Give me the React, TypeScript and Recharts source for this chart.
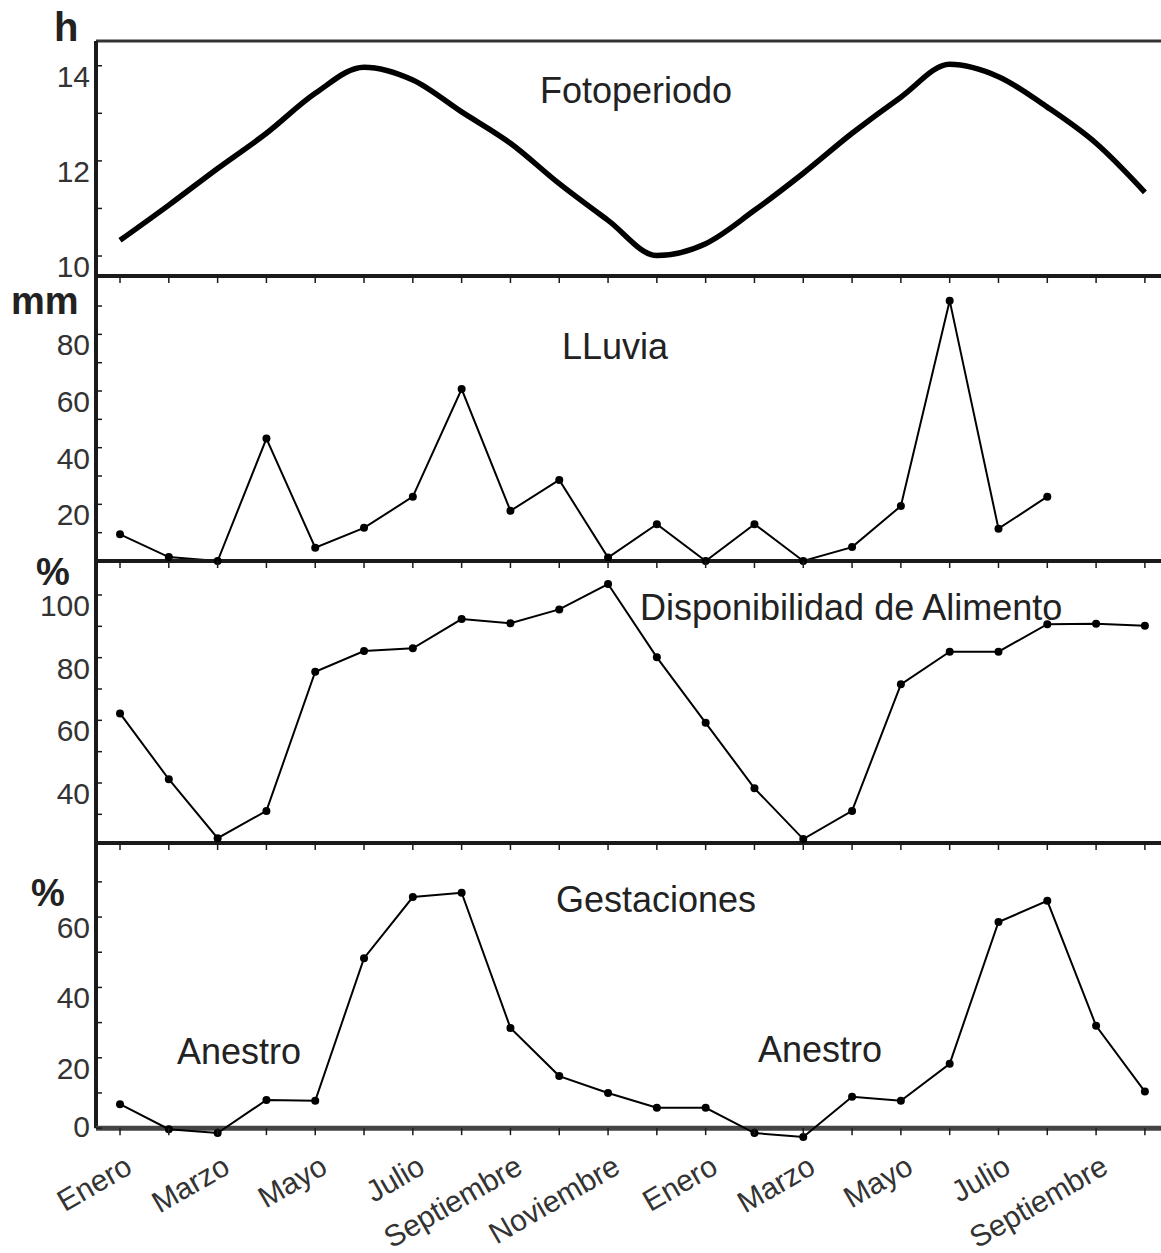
import React from 'react';
import { LineChart, Line, XAxis, YAxis, ReferenceLine } from 'recharts';

const months = [
  'Enero', 'Febrero', 'Marzo', 'Abril', 'Mayo', 'Junio', 'Julio', 'Agosto', 'Septiembre', 'Octubre', 'Noviembre', 'Diciembre',
  'Enero', 'Febrero', 'Marzo', 'Abril', 'Mayo', 'Junio', 'Julio', 'Agosto', 'Septiembre', 'Octubre',
];
// only every other month gets a label on the bottom axis
const tickLabels = months.map((m, i) => (i % 2 === 0 ? m : ''));

const fotoperiodo = [10.33, 11.07, 11.84, 12.58, 13.42, 13.97, 13.7, 13.03, 12.37, 11.52, 10.75, 10.01,
  10.26, 10.96, 11.74, 12.58, 13.34, 14.03, 13.77, 13.13, 12.37, 11.34];
const lluvia = [9.4, 1.4, 0, 43.2, 4.7, 11.7, 22.7, 60.7, 17.7, 28.6, 1.2, 13.0,
  0, 13.0, 0, 4.9, 19.4, 91.9, 11.4, 22.7, null, null];
const alimento = [62.2, 41.2, 22.4, 31.1, 75.5, 82.1, 83.0, 92.3, 91.0, 95.4, 103.5, 80.1,
  59.2, 38.3, 22.1, 31.1, 71.5, 81.9, 81.9, 90.7, 90.8, 90.2];
const gestaciones = [6.8, -0.3, -1.4, 8.0, 7.8, 48.3, 65.7, 66.9, 28.5, 14.8, 10.0, 5.8,
  5.8, -1.4, -2.5, 8.9, 7.8, 18.3, 58.6, 64.6, 29.1, 10.4];

const fotoTicks = [10, 11, 12, 13, 14];
const fotoLabels = [10, 12, 14];
const lluviaTicks = [10, 20, 30, 40, 50, 60, 70, 80, 90];
const lluviaLabels = [20, 40, 60, 80];
const alimTicks = [30, 40, 50, 60, 70, 80, 90, 100];
const alimLabels = [40, 60, 80, 100];
const gestTicks = [0, 10, 20, 30, 40, 50, 60, 70];
const gestLabels = [0, 20, 40, 60];

const data = months.map((mes, i) => ({
  i, mes,
  foto: fotoperiodo[i],
  lluvia: lluvia[i],
  alimento: alimento[i],
  gest: gestaciones[i],
}));
const monthIdx = months.map((_, i) => i);

const X_DOMAIN: [number, number] = [-0.492, 21.33];
const G_DOMAIN: [number, number] = [-2.8, 81.05];
const FONT = '"Liberation Sans", Arial, Helvetica, sans-serif';
const INK = '#1a1a1a';
const W = 1161;
const G_PLOT_H = 295;
const G_LIFT = (-G_DOMAIN[0] * G_PLOT_H) / (G_DOMAIN[1] - G_DOMAIN[0]);

const yTick = (labels: number[]) => (props: any) => {
  const { x, y, payload } = props;
  const v = payload.value;
  return (
    <g>
      <line x1={x} x2={x + 6} y1={y} y2={y} stroke={INK} strokeWidth={1.5} />
      {labels.includes(v) && (
        <text x={x - 6} y={v === 0 ? y + 9 : y + 21} textAnchor="end" fontSize={30} fill="#333" fontFamily={FONT}>
          {v}
        </text>
      )}
    </g>
  );
};

const xTick = (withLabels: boolean, lift = 0) => (props: any) => {
  const { x, y, payload } = props;
  const base = y - lift;
  const label = tickLabels[payload.value];
  const lx = x + 14;
  const ly = base + 44;
  return (
    <g>
      <line x1={x} x2={x} y1={base} y2={base + 7} stroke={INK} strokeWidth={1.5} />
      {withLabels && label && (
        <text x={lx} y={ly} transform={`rotate(-30 ${lx} ${ly})`} textAnchor="end" fontSize={30} fill="#333" fontFamily={FONT}>
          {label}
        </text>
      )}
    </g>
  );
};

const axisLine = { stroke: INK, strokeWidth: 4 };
const dot = { r: 4, fill: '#000', stroke: 'none' };

function Panel({ top, height, children }: { top: number; height: number; children: React.ReactNode }) {
  return <div style={{ position: 'absolute', left: 0, top, width: W, height }}>{children}</div>;
}

export default function App() {
  return (
    <div style={{ position: 'absolute', left: 0, top: 0, width: W, height: 1253, background: '#fff', fontFamily: FONT }}>
      <Panel top={0} height={284}>
        <LineChart width={W} height={284} data={data} margin={{ top: 41, right: 0, bottom: 0, left: 0 }}>
          <XAxis dataKey="i" type="number" domain={X_DOMAIN} ticks={monthIdx} interval={0} height={8}
            tickSize={0} tickMargin={0} axisLine={axisLine} tickLine={false} tick={xTick(false)} />
          <YAxis type="number" domain={[9.58, 14.52]} ticks={fotoTicks} width={96} tickSize={0} tickMargin={0}
            axisLine={axisLine} tickLine={false} tick={yTick(fotoLabels)} />
          <ReferenceLine y={14.52} stroke="#333" strokeWidth={3} />
          <Line dataKey="foto" type="monotone" stroke="#000" strokeWidth={5.5} strokeLinejoin="round" dot={false} isAnimationActive={false} />
        </LineChart>
      </Panel>

      <Panel top={270} height={299}>
        <LineChart width={W} height={299} data={data} margin={{ top: 6, right: 0, bottom: 0, left: 0 }}>
          <XAxis dataKey="i" type="number" domain={X_DOMAIN} ticks={monthIdx} interval={0} height={8}
            tickSize={0} tickMargin={0} axisLine={axisLine} tickLine={false} tick={xTick(false)} />
          <YAxis type="number" domain={[0, 100.6]} ticks={lluviaTicks} width={96} tickSize={0} tickMargin={0}
            axisLine={axisLine} tickLine={false} tick={yTick(lluviaLabels)} />
          <Line dataKey="lluvia" type="linear" stroke="#000" strokeWidth={2} dot={dot} isAnimationActive={false} />
        </LineChart>
      </Panel>

      <Panel top={555} height={296}>
        <LineChart width={W} height={296} data={data} margin={{ top: 6, right: 0, bottom: 0, left: 0 }}>
          <XAxis dataKey="i" type="number" domain={X_DOMAIN} ticks={monthIdx} interval={0} height={8}
            tickSize={0} tickMargin={0} axisLine={axisLine} tickLine={false} tick={xTick(false)} />
          <YAxis type="number" domain={[20.85, 110.85]} ticks={alimTicks} width={96} tickSize={0} tickMargin={0}
            axisLine={axisLine} tickLine={false} tick={yTick(alimLabels)} />
          <Line dataKey="alimento" type="linear" stroke="#000" strokeWidth={2} dot={dot} isAnimationActive={false} />
        </LineChart>
      </Panel>

      <Panel top={837} height={416}>
        <LineChart width={W} height={416} data={data} margin={{ top: 6, right: 0, bottom: 0, left: 0 }}>
          <XAxis dataKey="i" type="number" domain={X_DOMAIN} ticks={monthIdx} interval={0} height={115}
            tickSize={0} tickMargin={0} axisLine={false} tickLine={false} tick={xTick(true, G_LIFT)} />
          <YAxis type="number" domain={G_DOMAIN} ticks={gestTicks} width={96} tickSize={0} tickMargin={0}
            axisLine={false} tickLine={false} tick={yTick(gestLabels)} />
          <ReferenceLine segment={[{ x: X_DOMAIN[0], y: 0 }, { x: X_DOMAIN[0], y: G_DOMAIN[1] }]} stroke={INK} strokeWidth={4} />
          <ReferenceLine y={0} stroke="#444" strokeWidth={5} />
          <Line dataKey="gest" type="linear" stroke="#000" strokeWidth={2} dot={dot} isAnimationActive={false} />
        </LineChart>
      </Panel>

      <svg width={W} height={1253} style={{ position: 'absolute', left: 0, top: 0, pointerEvents: 'none' }}>
        <g fontFamily={FONT} fill="#222">
          <text x={54} y={41} fontSize={40} fontWeight="bold">h</text>
          <text x={11} y={314} fontSize={38} fontWeight="bold">mm</text>
          <text x={36} y={585} fontSize={38} fontWeight="bold">%</text>
          <text x={31} y={906} fontSize={38} fontWeight="bold">%</text>
          <text x={540} y={103} fontSize={36}>Fotoperiodo</text>
          <text x={562} y={359} fontSize={36}>LLuvia</text>
          <text x={640} y={620} fontSize={36}>Disponibilidad de Alimento</text>
          <text x={556} y={912} fontSize={36}>Gestaciones</text>
          <text x={177} y={1064} fontSize={36}>Anestro</text>
          <text x={758} y={1062} fontSize={36}>Anestro</text>
        </g>
      </svg>
    </div>
  );
}
